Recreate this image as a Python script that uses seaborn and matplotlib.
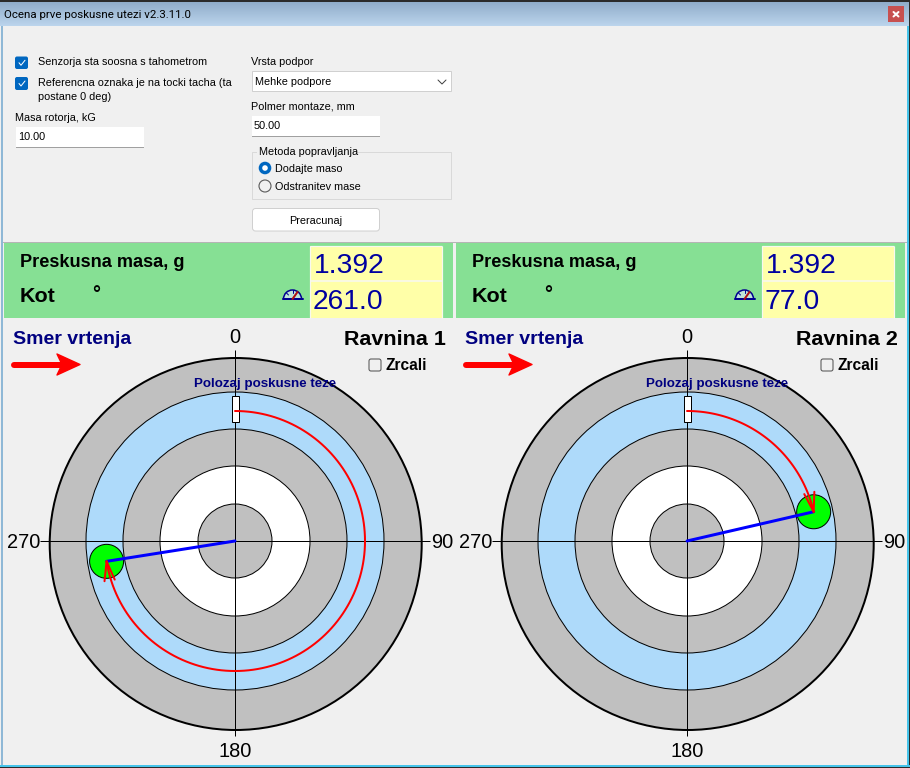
import numpy as np
import pandas as pd
import matplotlib
matplotlib.use("Agg")
import matplotlib.pyplot as plt
from matplotlib.patches import Circle, Rectangle, FancyBboxPatch, Wedge, Polygon
import seaborn as sns

plane_names = ["Ravnina 1", "Ravnina 2"]
trial_mass = ["1.392", "1.392"]
angle_text = ["261.0", "77.0"]
angles_deg = [261.0, 77.0]
dial_ticks = ["0", "90", "180", "270"]
ring_radii = [186, 149, 112, 75, 37]
ring_colors = ["#C0C0C0", "#AEDAFA", "#C0C0C0", "#FFFFFF", "#C0C0C0"]
weight_radius = 130

sns.set_theme(style="white")
plt.rcParams["font.family"] = ["Liberation Sans", "DejaVu Sans"]

PX = 0.72
UI = 10.85
fig = plt.figure(figsize=(9.10, 7.68), dpi=100, facecolor="#F0F0F0")
ax = fig.add_axes([0, 0, 1, 1])
ax.set_axis_off()


def label(x, y, s, size=12, bold=False, color="black", ha="left", family=None, z=20):
    kw = {"family": family} if family else {}
    ax.text(x, y + 0.08 * size, s, fontsize=size * PX, fontweight="bold" if bold else "normal",
            color=color, ha=ha, va="center", zorder=z, **kw)


def line(xs, ys, color, width, z=5, cap="round"):
    df = pd.DataFrame({"x": xs, "y": ys, "i": range(len(xs))})
    sns.lineplot(data=df, x="x", y="y", sort=False, estimator=None, color=color,
                 linewidth=width * PX, ax=ax, zorder=z, legend=False,
                 solid_capstyle=cap, solid_joinstyle="round")


def box(x0, y0, x1, y1, fc, ec="none", lw=0, z=2, round_=0):
    if round_:
        ax.add_patch(FancyBboxPatch((x0 + round_, y0 + round_), x1 - x0 - 2 * round_, y1 - y0 - 2 * round_,
                                    boxstyle=f"round,pad={round_},rounding_size={round_}",
                                    fc=fc, ec=ec, lw=lw * PX, zorder=z))
    else:
        ax.add_patch(Rectangle((x0, y0), x1 - x0, y1 - y0, fc=fc, ec=ec, lw=lw * PX, zorder=z))


# window chrome
grad = np.linspace(0, 1, 26)[:, None, None] * (np.array([187, 212, 236]) - np.array([141, 170, 200])) + np.array([141, 170, 200])
ax.imshow(grad.astype(np.uint8), extent=(0, 910, 26, 0), aspect="auto", zorder=1)
box(0, 0, 910, 1.5, "#2B2B2B", z=3)
box(1, 26, 2.5, 766, "#8FB8D6", z=3)
box(906.5, 26, 908.5, 766, "#45C4EA", z=3)
box(908.5, 0, 910, 768, "#2B2B2B", z=3)
box(0, 765, 910, 766.5, "#45C4EA", z=3)
box(0, 766.5, 910, 768, "#2B2B2B", z=3)
box(888, 6, 904, 22, "#C75050", z=3)
line([893.5, 898.5], [12, 16.5], "white", 2, z=4)
line([893.5, 898.5], [16.5, 12], "white", 2, z=4)
label(4, 14.5, "Ocena prve poskusne utezi v2.3.11.0", 11.5, family="Roboto")

# form controls
BLUE = "#0067C0"
for y0, y1 in ((56.5, 69), (77, 90)):
    box(15, y0, 28, y1, BLUE, z=3, round_=2)
    ym = (y0 + y1) / 2
    line([19, 21, 25], [ym, ym + 2.5, ym - 2.5], "white", 1, z=4)
label(38, 61, "Senzorja sta soosna s tahometrom", UI)
label(38, 82, "Referencna oznaka je na tocki tacha (ta", UI)
label(38, 96, "postane 0 deg)", UI)
label(15, 117, "Masa rotorja, kG", UI)
box(16, 127, 144, 147, "white")
box(16, 146.5, 144, 147.5, "#A0A0A0", z=3)
label(18, 136, "10.00", UI)
label(251, 61, "Vrsta podpor", UI)
box(251.5, 70.5, 450.5, 91, "white", "#D0D0D0", 1)
label(255, 81, "Mehke podpore", UI)
line([438, 442, 446], [80, 84, 80], "#404040", 1, z=4)
label(251, 106, "Polmer montaze, mm", UI)
box(252, 116, 380, 136, "white")
box(252, 135.5, 380, 136.5, "#A0A0A0", z=3)
label(254, 125, "50.00", UI)
box(251.5, 151.5, 450.5, 198.5, "none", "#D9D9D9", 1)
box(257, 146, 357, 156, "#F0F0F0", z=3)
label(259, 151, "Metoda popravljanja", UI)
ax.add_patch(Circle((265, 168), 6.3, fc=BLUE, ec=BLUE, lw=0, zorder=4))
ax.add_patch(Circle((265, 168), 2.8, fc="white", ec="none", zorder=5))
ax.add_patch(Circle((265, 186), 6, fc="#F0F0F0", ec="#5A5A5A", lw=0.8, zorder=4))
label(275, 168, "Dodajte maso", UI)
label(275, 186, "Odstranitev mase", UI)
box(252.5, 208.5, 379.5, 231, "white", "#D0D0D0", 1, round_=3)
label(316, 220, "Preracunaj", UI, ha="center")

# the two planes
for k, dx in enumerate((0, 452)):
    # result panel
    box(4 + dx, 243, 453 + dx, 318, "#86E094")
    box(2.5 + dx, 241.5, 454.5 + dx, 243, "#B5B5B5")
    box(310 + dx, 245.5, 441.5 + dx, 318, "#FFFFA8", z=3)
    line([310 + dx, 441.5 + dx], [281, 281], "#F8F8F0", 1.6, z=3.3, cap="butt")
    line([310 + dx, 441.5 + dx], [245.5, 245.5], "#F8F8F0", 1.2, z=3.3, cap="butt")
    line([310 + dx, 310 + dx], [245.5, 318], "#F8F8F0", 1.2, z=3.3, cap="butt")
    line([441.5 + dx, 441.5 + dx], [245.5, 318], "#F8F8F0", 1.2, z=3.3, cap="butt")
    label(20 + dx, 261, "Preskusna masa, g", 18.2, True)
    label(20 + dx, 295, "Kot", 21.5, True)
    label(92 + dx, 293, "°", 20, True)
    label(314 + dx, 264, trial_mass[k], 28.3, color="#0000A0")
    label(313 + dx, 300, angle_text[k], 28.3, color="#0000A0")
    gx, gy = 292.5 + dx, 299
    ax.add_patch(Wedge((gx, gy), 9, 180, 360, fc="#BFE6D8", ec="#000090", lw=1.1, zorder=4))
    line([gx - 10, gx + 10], [gy, gy], "#000090", 2, z=5)
    line([gx, gx], [gy - 9, gy - 6], "#000090", 1, z=5)
    line([gx - 6, gx - 4], [gy - 6, gy - 4], "#000090", 1, z=5)
    line([gx, gx + 5], [gy, gy - 7], "#B01010", 2, z=6)

    # dial
    cx, cy = 235 + dx, 541
    ax.add_patch(Circle((cx + 0.7, cy + 3), ring_radii[0], fc=ring_colors[0], ec="black", lw=2 * PX, zorder=3))
    for i, (r, c) in enumerate(zip(ring_radii[1:], ring_colors[1:])):
        ax.add_patch(Circle((cx, cy), r, fc=c, ec="black", lw=1 * PX, zorder=3 + 0.1 * i))
    line([cx - 195, cx + 195], [cy, cy], "black", 1, z=4, cap="butt")
    line([cx, cx], [350, 736], "black", 1, z=4, cap="butt")
    box(cx - 3, 396, cx + 3.5, 421.5, "white", "black", 1, z=5)

    # trial weight, spoke and rotation arc
    th = np.radians(angles_deg[k])
    tx, ty = cx + weight_radius * np.sin(th), cy - weight_radius * np.cos(th)
    ax.add_patch(Circle((tx, ty), 17, fc="#00FF00", ec="black", lw=1 * PX, zorder=6))
    line([cx, tx], [cy, ty], "#0000FF", 3, z=7)
    arc = np.radians(np.arange(0, angles_deg[k] + 1, 1.0))
    line(cx + weight_radius * np.sin(arc), cy - weight_radius * np.cos(arc), "#FF0000", 2, z=8)
    back = np.array([-np.cos(th), -np.sin(th)])
    for a in (-15, 15):
        ra = np.radians(a)
        v = 20 * np.array([back[0] * np.cos(ra) - back[1] * np.sin(ra),
                           back[0] * np.sin(ra) + back[1] * np.cos(ra)])
        line([tx, tx + v[0]], [ty, ty + v[1]], "#FF0000", 2, z=8)

    # dial labels
    label(cx, 336, dial_ticks[0], 20, ha="center")
    label(431 + dx, 541, dial_ticks[1], 20)
    label(cx, 750, dial_ticks[2], 20, ha="center")
    label(7 + dx, 541, dial_ticks[3], 20)
    label(446 + dx, 338, plane_names[k], 21.5, True, ha="right")
    label(13 + dx, 338, "Smer vrtenja", 19.5, True, color="#000080")
    label(265 + dx, 383, "Polozaj poskusne teze", 13.4, True, color="#000080", ha="center", z=9)
    label(385 + dx, 364, "Zrcali", 15.5, True)
    box(369 + dx, 359, 381 + dx, 371, "#F0F0F0", "#505050", 1, z=4, round_=2)

    # rotation direction arrow
    line([14 + dx, 62 + dx], [364.5, 364.5], "#FF0000", 6, z=5)
    ax.add_patch(Polygon([(57 + dx, 354), (80 + dx, 364.5), (57 + dx, 375), (62 + dx, 364.5)],
                         closed=True, fc="#FF0000", ec="#FF0000", lw=1, joinstyle="round", zorder=5))

ax.set_xlim(0, 910)
ax.set_ylim(768, 0)
ax.set_xlabel("")
ax.set_ylabel("")
fig.savefig("out.png", dpi=100, facecolor=fig.get_facecolor())
